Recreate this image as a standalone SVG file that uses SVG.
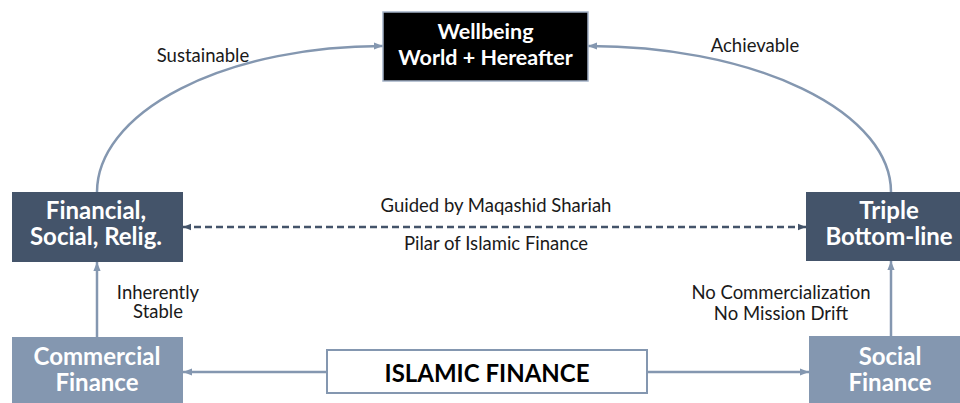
<svg xmlns="http://www.w3.org/2000/svg" width="960" height="403" viewBox="0 0 960 403">
  <style>
    .lbl { font-family: Lato, "Liberation Sans", sans-serif; font-size: 18.5px; fill: #1a1a1a; text-anchor: middle; }
    .nt { font-family: Lato, "Liberation Sans", sans-serif; font-weight: bold; fill: #ffffff; text-anchor: middle; }
    .conn { fill: none; stroke: #8497B0; stroke-width: 2.5; }
    .dash { fill: none; stroke: #44546A; stroke-width: 2.5; stroke-dasharray: 7 4; }
  </style>
  <defs>
    <marker id="arr" viewBox="0 0 10 10" refX="10" refY="5" markerWidth="9" markerHeight="9" markerUnits="userSpaceOnUse" orient="auto">
      <path d="M0,1 L10,5 L0,9 z" fill="#8497B0"/>
    </marker>
    <marker id="arrd" viewBox="0 0 10 10" refX="10" refY="5" markerWidth="8" markerHeight="8" markerUnits="userSpaceOnUse" orient="auto-start-reverse">
      <path d="M0,1 L10,5 L0,9 z" fill="#44546A"/>
    </marker>
  </defs>
  <rect width="960" height="403" fill="#ffffff"/>

  <g id="connectors">
    <path class="conn" d="M97,192 A285,146 0 0 1 383,46" marker-end="url(#arr)"/>
    <path class="conn" d="M891,192 A302,146 0 0 0 588,46" marker-end="url(#arr)"/>
    <path class="conn" d="M97,337 L97,262" marker-end="url(#arr)"/>
    <path class="conn" d="M891,336 L891,261" marker-end="url(#arr)"/>
    <path class="conn" d="M327,372 L183,372" marker-end="url(#arr)"/>
    <path class="conn" d="M647,372 L809,372" marker-end="url(#arr)"/>
    <path class="dash" d="M183,227 L806,227" marker-start="url(#arrd)" marker-end="url(#arrd)"/>
    <text class="lbl" x="203" y="62">Sustainable</text>
    <text class="lbl" x="755" y="52">Achievable</text>
    <text class="lbl" x="496" y="212">Guided by Maqashid Shariah</text>
    <text class="lbl" x="496" y="250">Pilar of Islamic Finance</text>
    <text class="lbl" x="158" y="299">Inherently</text>
    <text class="lbl" x="158" y="318">Stable</text>
    <text class="lbl" x="781" y="299">No Commercialization</text>
    <text class="lbl" x="781" y="320">No Mission Drift</text>
  </g>

  <g id="wellbeing">
    <rect x="383" y="12" width="205" height="69" fill="#000000" stroke="#A3B1C6" stroke-width="1.5"/>
    <text class="nt" x="485.5" y="39" font-size="21.5">Wellbeing</text>
    <text class="nt" x="485.5" y="65" font-size="21.5">World + Hereafter</text>
  </g>

  <g id="financial">
    <rect x="12" y="192" width="171" height="70" fill="#44546A"/>
    <text class="nt" x="96" y="219" font-size="24">Financial,</text>
    <text class="nt" x="96" y="245" font-size="24">Social, Relig.</text>
  </g>

  <g id="triple">
    <rect x="806" y="192" width="171" height="69" fill="#44546A"/>
    <text class="nt" x="889" y="219" font-size="24">Triple</text>
    <text class="nt" x="889" y="245" font-size="24">Bottom-line</text>
  </g>

  <g id="commercial">
    <rect x="12" y="337" width="171" height="70" fill="#8497B0"/>
    <text class="nt" x="97" y="365" font-size="24">Commercial</text>
    <text class="nt" x="97" y="391" font-size="24">Finance</text>
  </g>

  <g id="social">
    <rect x="809" y="336" width="171" height="70" fill="#8497B0"/>
    <text class="nt" x="890" y="365" font-size="24">Social</text>
    <text class="nt" x="890" y="391" font-size="24">Finance</text>
  </g>

  <g id="islamic">
    <rect x="327" y="350" width="320" height="43" fill="#ffffff" stroke="#8497B0" stroke-width="2"/>
    <text x="487" y="382" font-family="Lato, 'Liberation Sans', sans-serif" font-weight="bold" font-size="24" fill="#000000" text-anchor="middle">ISLAMIC FINANCE</text>
  </g>
</svg>
